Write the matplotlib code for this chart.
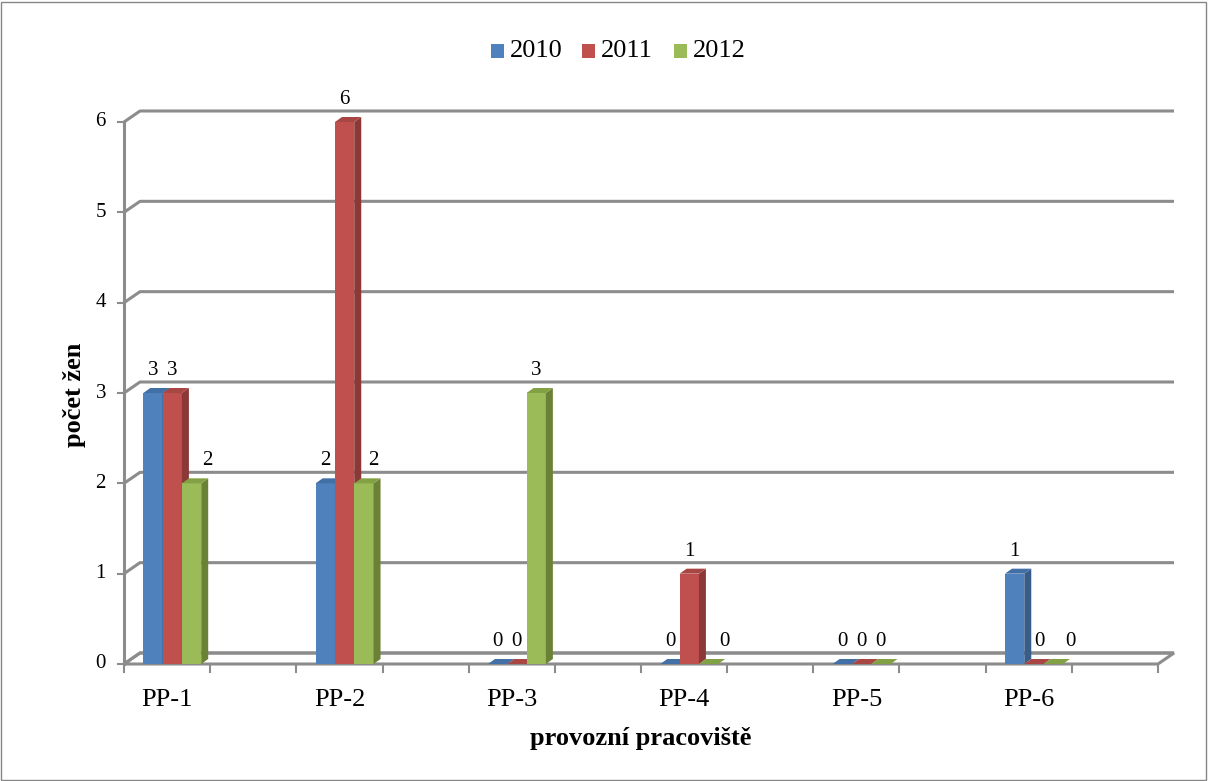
import matplotlib
matplotlib.use("Agg")
import matplotlib.pyplot as plt
from matplotlib.patches import Polygon, Rectangle
from matplotlib.transforms import offset_copy

plt.rcParams['font.family'] = ['Liberation Serif', 'DejaVu Serif']

# data: number of women per workplace and year
categories = ["PP-1", "PP-2", "PP-3", "PP-4", "PP-5", "PP-6"]
years = ["2010", "2011", "2012"]
values_2010 = [3, 2, 0, 0, 0, 1]
values_2011 = [3, 6, 0, 1, 0, 0]
values_2012 = [2, 2, 3, 0, 0, 0]
series = [values_2010, values_2011, values_2012]
y_ticks = [0, 1, 2, 3, 4, 5, 6]

# face colours: front, side, top
colors = [("#4F81BD", "#385D8A", "#426FA6"),
          ("#C0504D", "#8C3836", "#A84644"),
          ("#9BBB59", "#6B8236", "#82A044")]
grid_col = "#8C8C8C"

# labels nudged sideways (pixels) so they clear the taller neighbour
label_nudge = {(0, 2): 16, (1, 2): 9, (3, 2): 16, (5, 1): 6, (5, 2): 17}

W, H = 1208, 781
fig = plt.figure(figsize=(W / 100, H / 100), dpi=100)

# plot area (pixels): x 124..1158, y 664 (0) .. 122 (6)
x0, x1, y0, y1 = 124, 1158, 664, 122
ax = fig.add_axes([x0 / W, (H - y0) / H, (x1 - x0) / W, (y0 - y1) / H])
ax.set_xlim(0, 12)
ax.set_ylim(0, 6)
ax.axis("off")

px_x = (x1 - x0) / 12.0
px_y = (y0 - y1) / 6.0
# back wall offset and bar depth in data units
dxb, dyb = 16 / px_x, 11 / px_y
dxd, dyd = 7 / px_x, 5 / px_y
bar_w = 19.3 / px_x
shift = 0.06

# floor
floor = Polygon([(0, 0), (12, 0), (12 + dxb, dyb), (dxb, dyb)], closed=True,
                facecolor="white", edgecolor=grid_col, lw=2.2, clip_on=False, zorder=1)
ax.add_patch(floor)

# back gridlines with the slanted join to the value axis
for v in y_ticks:
    ax.plot([0, dxb, 12 + dxb], [v, v + dyb, v + dyb], color=grid_col, lw=2.2,
            clip_on=False, zorder=1, solid_capstyle="butt")

# value axis line and ticks
ax.plot([0, 0], [0, 6], color=grid_col, lw=2.2, clip_on=False, zorder=2)
for v in y_ticks:
    ax.plot([-6 / px_x, 0], [v, v], color=grid_col, lw=1.5, clip_on=False, zorder=2)
    t = offset_copy(ax.transData, fig=fig, x=-18, y=0, units="dots")
    ax.text(0, v, str(v), transform=t, ha="right", va="center", fontsize=15)

# category axis ticks
for k in range(13):
    ax.plot([k, k], [0, -8 / px_y], color=grid_col, lw=1.5, clip_on=False, zorder=2)

# bars
for j, vals in enumerate(series):
    front, side, top = colors[j]
    for i, v in enumerate(vals):
        left = 2 * i + 0.5 + shift + (j - 1.5) * bar_w
        right = left + bar_w
        ax.add_patch(Rectangle((left, 0), bar_w, v, facecolor=front,
                               edgecolor="none", clip_on=False, zorder=3 + j))
        ax.add_patch(Polygon([(right, 0), (right + dxd, dyd), (right + dxd, v + dyd), (right, v)],
                             closed=True, facecolor=side, edgecolor="none",
                             clip_on=False, zorder=3 + j))
        ax.add_patch(Polygon([(left, v), (right, v), (right + dxd, v + dyd), (left + dxd, v + dyd)],
                             closed=True, facecolor=top, edgecolor="none",
                             clip_on=False, zorder=3 + j))
        t = offset_copy(ax.transData, fig=fig, x=label_nudge.get((i, j), 0), y=18, units="dots")
        ax.text(left + bar_w / 2, v, str(v), transform=t, ha="center", va="baseline",
                fontsize=15, zorder=10)

# category labels
for i, name in enumerate(categories):
    t = offset_copy(ax.transData, fig=fig, x=0, y=-42, units="dots")
    ax.text(2 * i + 0.5, 0, name, transform=t, ha="center", va="baseline", fontsize=19)

# axis titles
fig.text(75 / W, 1 - 395 / H, "počet žen", rotation=90, ha="center", va="center",
         fontsize=19, fontweight="bold")
fig.text(641 / W, 1 - 739 / H, "provozní pracoviště", ha="center", va="center",
         fontsize=19, fontweight="bold")

# legend
leg_x = [491, 582, 674]
for j, name in enumerate(years):
    fig.patches.append(Rectangle((leg_x[j] / W, 1 - 58 / H), 13 / W, 14 / H,
                                 transform=fig.transFigure, facecolor=colors[j][0],
                                 edgecolor="none"))
    fig.text((leg_x[j] + 19) / W, 1 - 51 / H, name, ha="left", va="center", fontsize=19)

# chart border
fig.patches.append(Rectangle((1 / W, 1 / H), (W - 3) / W, (H - 3) / H,
                             transform=fig.transFigure, facecolor="none",
                             edgecolor="#868686", lw=1))

fig.savefig("out.png", dpi=100)
